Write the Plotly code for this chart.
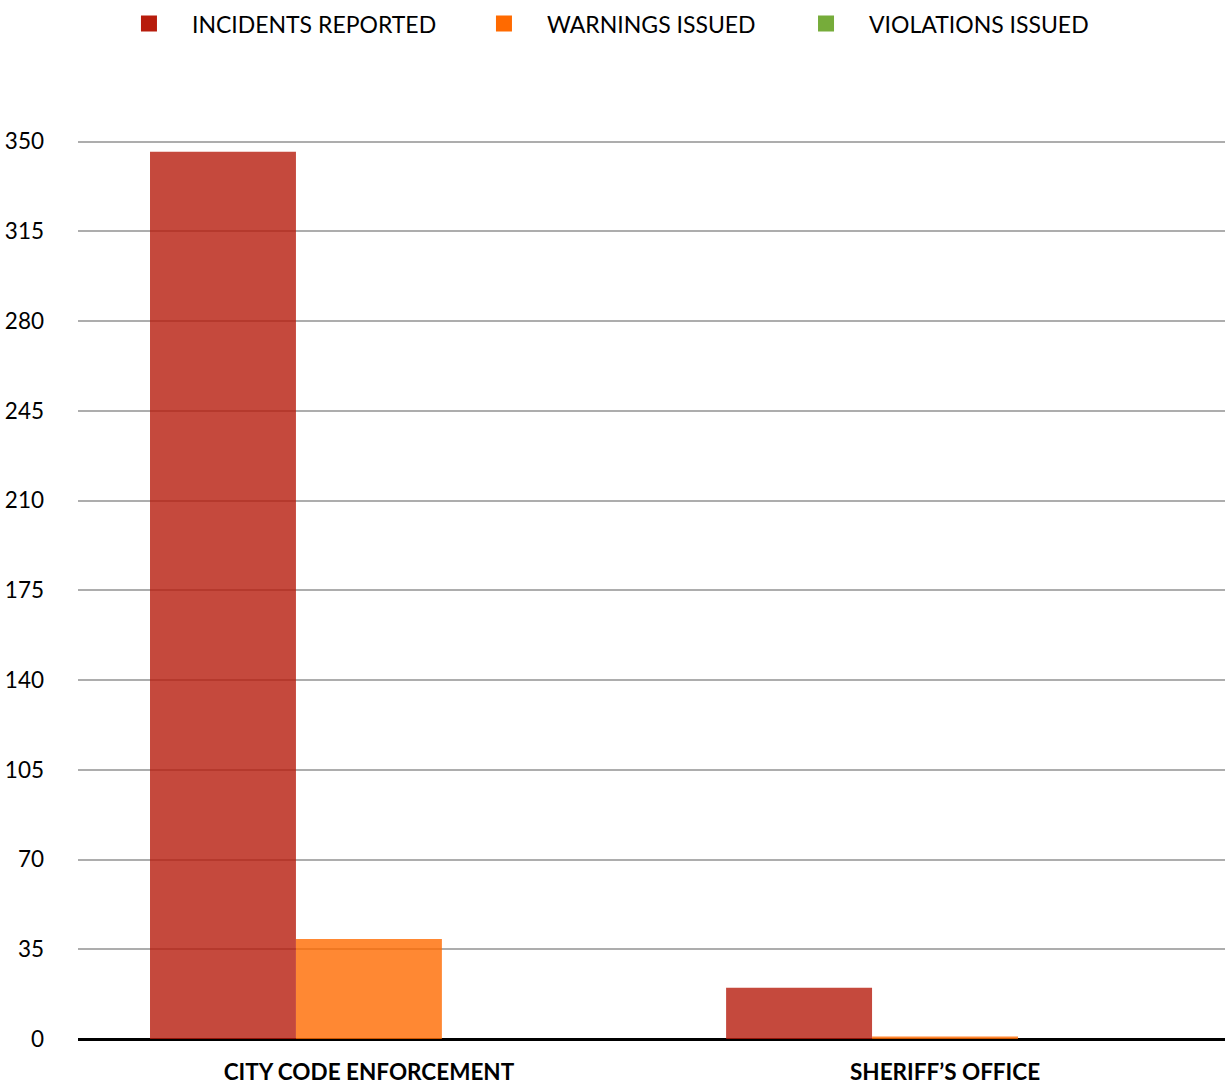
import plotly.graph_objects as go

categories = ["CITY CODE ENFORCEMENT", "SHERIFF\u2019S OFFICE"]
series_names = ["INCIDENTS REPORTED", "WARNINGS ISSUED", "VIOLATIONS ISSUED"]
incidents = [346, 20]
warnings = [39, 1]
violations = [0, 0]
legend_colors = ["#B71C0C", "#FF6A00", "#76AC3A"]
y_ticks = [0, 35, 70, 105, 140, 175, 210, 245, 280, 315, 350]

FONT = "Lato"
LEGEND_IDS = ["legend", "legend2", "legend3"]
LEGEND_X = [0.0865, 0.3763, 0.6392]

fig = go.Figure()
for name, vals, col in zip(series_names, [incidents, warnings, violations], legend_colors):
    fig.add_trace(go.Bar(x=categories, y=vals, name=name, marker=dict(color=col, opacity=0.8, line=dict(width=0)),
                         showlegend=False))
for name, col, lid in zip(series_names, legend_colors, LEGEND_IDS):
    fig.add_trace(go.Scatter(x=[None], y=[None], mode="markers", name=name, legend=lid,
                             marker=dict(symbol="square", size=16, color=col)))

legend_style = dict(orientation="h", yref="container", y=0.998, yanchor="top", xref="container",
                    xanchor="left", font=dict(family=FONT, size=23, color="#000"), itemwidth=76,
                    itemsizing="trace", bgcolor="rgba(0,0,0,0)")
fig.update_layout(
    width=1225, height=1084,
    margin=dict(l=78, r=0, t=139, b=45, autoexpand=False),
    paper_bgcolor="white", plot_bgcolor="white",
    barmode="group", bargap=0.24, bargroupgap=0,
    font=dict(family=FONT, size=22, color="#000000"),
    legend=dict(x=LEGEND_X[0], **legend_style),
    legend2=dict(x=LEGEND_X[1], **legend_style),
    legend3=dict(x=LEGEND_X[2], **legend_style),
    xaxis=dict(range=[-0.505, 1.486], showgrid=False, showline=False, ticks="", ticklabelstandoff=17,
               automargin=False, tickfont=dict(family=FONT, size=22.5, color="#000", weight="bold")),
    yaxis=dict(range=[0, 351], tickvals=y_ticks, showgrid=True, gridcolor="#ADADAD", gridwidth=2,
               zeroline=True, zerolinecolor="#000000", zerolinewidth=3, showline=False, automargin=False,
               ticks="", ticklabelstandoff=33, tickfont=dict(family=FONT, size=22.5, color="#000")),
)
fig.write_html("out.html", config={"displayModeBar": False},
               post_script="document.body.style.margin='0';document.body.style.overflow='hidden';")
